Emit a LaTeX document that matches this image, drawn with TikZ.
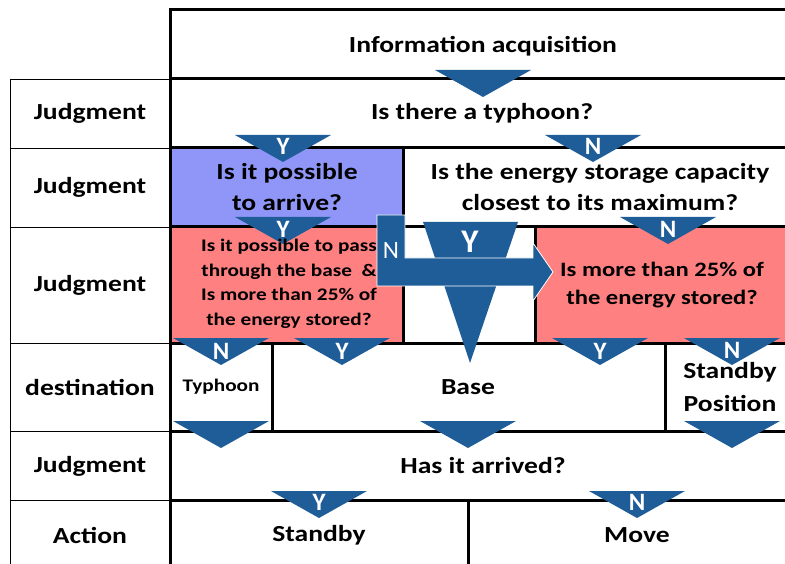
\documentclass[tikz,border=0pt]{standalone}
\usepackage{fontspec}
\setmainfont{Carlito}[FakeStretch=1.2]
\newfontfamily\labfont{Carlito}
\definecolor{triblue}{RGB}{31,93,153}
\definecolor{boxblue}{RGB}{143,150,248}
\definecolor{boxred}{RGB}{255,128,128}
\tikzset{
  heavy/.style={line width=3pt, black},
  light/.style={line width=0.9pt, black},
  txt/.style={font=\bfseries\fontsize{23}{31}\selectfont, align=center, inner sep=0pt},
  midtxt/.style={font=\bfseries\fontsize{20.5}{28}\selectfont, align=center, inner sep=0pt},
  smalltxt/.style={font=\bfseries\fontsize{17.7}{24.5}\selectfont, align=center, inner sep=0pt},
  trilabel/.style={font=\labfont\bfseries\fontsize{25}{25}\selectfont, text=white, inner sep=0pt},
  dtri/.pic={\fill[triblue] (-48,0) -- (48,0) -- (0,27) -- cycle;}
}
\begin{document}
\begin{tikzpicture}[x=1pt,y=-1pt]
\useasboundingbox (0,0) rectangle (785,564);
% coloured cells
\fill[boxblue] (170,148) rectangle (403,227);
\fill[boxred] (170,227) rectangle (403,343);
\fill[boxred] (535,227) rectangle (785,343);
% label column
\draw[light] (10,564) -- (10,79) -- (170,79);
\foreach \yy in {148,227,343,431,500} \draw[light] (10,\yy) -- (170,\yy);
% main grid
\draw[heavy] (170,564) -- (170,10) -- (785,10);
\foreach \yy in {79,148,227,343,431,500} \draw[heavy] (170,\yy) -- (785,\yy);
\draw[heavy] (403,148) -- (403,343);
\draw[heavy] (535,227) -- (535,343);
\draw[heavy] (272,343) -- (272,431);
\draw[heavy] (665,343) -- (665,431);
\draw[heavy] (468,500) -- (468,564);
% triangles
\pic at (483,70) {dtri};
\pic at (283,135) {dtri};
\pic at (593,135) {dtri};
\pic at (283,217) {dtri};
\pic at (668,217) {dtri};
\pic at (221,338) {dtri};
\pic at (342,338) {dtri};
\pic at (600,338) {dtri};
\pic at (732,338) {dtri};
\pic at (221,421) {dtri};
\pic at (468,421) {dtri};
\pic at (732,421) {dtri};
\pic at (319,491) {dtri};
\pic at (637,491) {dtri};
% left labels
\node[txt] (j1) at (90,113) {Judgment};
\node[txt] (j2) at (90,187) {Judgment};
\node[txt] (j3) at (90,285) {Judgment};
\node[txt] (dest) at (90,387) {destination};
\node[txt] (j4) at (90,466) {Judgment};
\node[txt] (act) at (90,535) {Action};
% main texts
\node[txt] (info) at (483,46) {Information acquisition};
\node[txt] (typh) at (482,113) {Is there a typhoon?};
\node[txt] (arrive) at (287,187) {Is it possible\\to arrive?};
\node[txt] (cap) at (600,187) {Is the energy storage capacity\\closest to its maximum?};
\node[smalltxt] (pass) at (289,284) {Is it possible to pass\\through the base~~\&\\Is more than 25\% of\\the energy stored?};
\node[midtxt] (more) at (662,285) {Is more than 25\% of\\the energy stored?};
\node[smalltxt] (tyd) at (221,387) {Typhoon};
\node[txt] (base) at (468,387) {Base};
\node[txt, font=\bfseries\fontsize{23}{33}\selectfont] (sbp) at (730,387) {Standby\\Position};
\node[txt] (arr) at (483,466) {Has it arrived?};
\node[txt] (sb) at (319,535) {Standby};
\node[txt] (mv) at (637,535) {Move};
% triangle labels
\node[trilabel] (l1) at (283,146) {Y};
\node[trilabel] (l2) at (593,146) {N};
\node[trilabel] (l3) at (283,229) {Y};
\node[trilabel] (l4) at (668,229) {N};
\node[trilabel] (l5) at (221,351) {N};
\node[trilabel] (l6) at (342,351) {Y};
\node[trilabel] (l7) at (600,351) {Y};
\node[trilabel] (l8) at (732,350) {N};
\node[trilabel] (l9) at (319,502) {Y};
\node[trilabel] (l10) at (637,502) {N};
% big Y triangle and N arrow
\fill[triblue] (423,222) -- (518,222) -- (470,363) -- cycle;
\node[font=\labfont\bfseries\fontsize{33}{33}\selectfont, text=white, inner sep=0pt] (bigy) at (470,242) {Y};
\filldraw[fill=triblue, draw=white, line width=0.8pt] (377,215) -- (405,215) -- (405,258) -- (533,258) -- (533,243) -- (553,272) -- (533,301) -- (533,286) -- (377,286) -- cycle;
\node[font=\labfont\fontsize{25}{25}\selectfont, text=white, inner sep=0pt] (bign) at (391,250) {N};
\end{tikzpicture}
\end{document}
